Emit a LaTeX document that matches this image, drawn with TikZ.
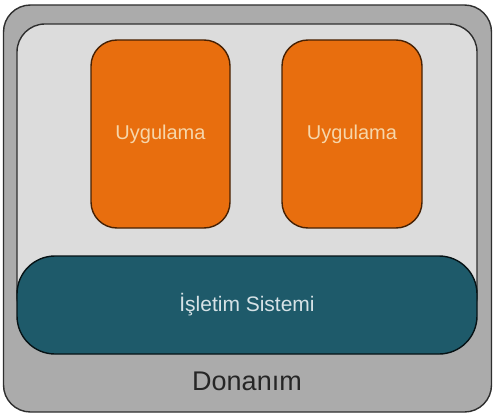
\documentclass[tikz,border=0pt]{standalone}
\usepackage{fontspec}
\setmainfont{Liberation Sans}
\definecolor{outergray}{HTML}{ABABAB}
\definecolor{innergray}{HTML}{DCDCDC}
\definecolor{apporange}{HTML}{E86E0E}
\definecolor{apptext}{HTML}{F6D6AA}
\definecolor{osteal}{HTML}{1E5A6A}
\definecolor{ostext}{HTML}{D6E2E6}
\definecolor{edgedark}{HTML}{2E2E2E}
\begin{document}
\begin{tikzpicture}[x=1pt,y=-1pt,
  boxbase/.style={draw=edgedark, line width=1.4pt, inner sep=0pt, outer sep=0pt},
  hwbox/.style={boxbase, fill=outergray, rounded corners=27pt},
  panel/.style={boxbase, fill=innergray, rounded corners=28pt},
  appbox/.style={boxbase, draw=black!70!apporange, fill=apporange, rounded corners=26pt,
     text=apptext, font=\fontsize{20}{24}\selectfont},
  osbox/.style={boxbase, draw=black!80!osteal, fill=osteal, rounded corners=38pt,
     text=ostext, font=\fontsize{21}{25}\selectfont},
  hwlabel/.style={text=black!85, font=\fontsize{27}{32}\selectfont, inner sep=0pt}
]
\useasboundingbox (0,0) rectangle (497,417);
\fill[white] (0,0) rectangle (497,417);
\node[hwbox, minimum width=488pt, minimum height=407pt] (hw) at (247.5,208.5) {};
\node[panel, minimum width=460pt, minimum height=300pt] (panel) at (247,174) {};
\node[appbox, minimum width=139pt, minimum height=188pt] (app1) at (160.5,134) {Uygulama};
\node[appbox, minimum width=140pt, minimum height=188pt] (app2) at (352,134) {Uygulama};
\node[osbox, minimum width=460pt, minimum height=98pt] (os) at (247,305) {İşletim Sistemi};
\node[hwlabel] (hwtext) at (247,381) {Donanım};
\end{tikzpicture}
\end{document}
